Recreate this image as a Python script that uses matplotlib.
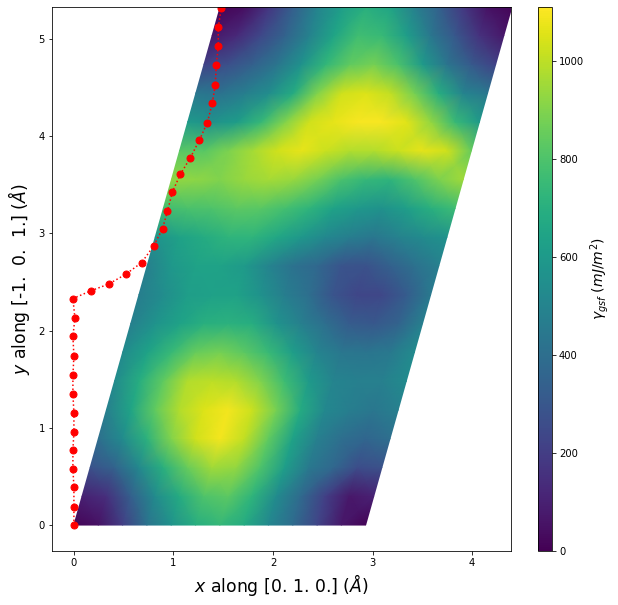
import numpy as np
import matplotlib
matplotlib.use('Agg')
import matplotlib.pyplot as plt

# gamma surface, rows along y, columns along the slanted cell
y_rows = [0.0, 0.296, 0.593, 0.889, 1.185, 1.481, 1.778, 2.074, 2.37, 2.667, 2.963,
          3.259, 3.556, 3.852, 4.148, 4.444, 4.741, 5.037, 5.333]
cell_frac = [0, 1 / 12, 2 / 12, 3 / 12, 4 / 12, 5 / 12, 6 / 12, 7 / 12, 8 / 12, 9 / 12,
             10 / 12, 11 / 12, 1]
gamma = [
    [10, 50, 200, 420, 560, 690, 740, 680, 520, 390, 230, 70, 10],
    [100, 150, 330, 530, 680, 800, 830, 720, 530, 380, 210, 70, 100],
    [280, 350, 520, 700, 850, 950, 930, 800, 620, 450, 370, 260, 280],
    [400, 530, 710, 900, 1030, 1090, 1010, 840, 640, 480, 400, 360, 400],
    [480, 650, 840, 980, 1050, 1090, 1020, 880, 680, 520, 470, 440, 480],
    [530, 690, 840, 980, 1000, 980, 900, 760, 600, 500, 480, 480, 530],
    [530, 640, 750, 850, 880, 830, 750, 620, 500, 440, 430, 450, 530],
    [480, 570, 640, 700, 710, 690, 570, 480, 400, 320, 300, 350, 480],
    [470, 540, 620, 630, 640, 560, 470, 400, 290, 230, 240, 320, 450],
    [480, 590, 640, 640, 600, 500, 420, 370, 290, 280, 340, 410, 480],
    [570, 640, 680, 720, 720, 660, 590, 520, 470, 440, 490, 530, 570],
    [770, 790, 800, 830, 820, 780, 720, 640, 590, 560, 620, 700, 760],
    [930, 920, 900, 940, 960, 940, 880, 790, 740, 720, 800, 890, 950],
    [820, 820, 890, 960, 1030, 1070, 1020, 980, 980, 1020, 1070, 1030, 850],
    [600, 560, 610, 740, 900, 1030, 1070, 1100, 1100, 1060, 930, 750, 600],
    [440, 420, 470, 540, 680, 900, 1030, 1050, 1010, 880, 690, 500, 440],
    [220, 270, 340, 430, 560, 730, 840, 880, 790, 600, 430, 310, 220],
    [70, 130, 240, 350, 490, 650, 770, 750, 620, 440, 300, 160, 70],
    [10, 40, 170, 330, 500, 620, 700, 650, 480, 340, 180, 50, 10],
]

# minimum energy path
path_x = [0, 0.0, 0.0, -0.01, -0.01, 0.0, 0.0, -0.01, -0.01, 0.0, -0.01, 0.01, -0.01,
          0.17, 0.35, 0.52, 0.68, 0.8, 0.89, 0.94, 0.99, 1.07, 1.17, 1.26, 1.34,
          1.39, 1.42, 1.43, 1.45, 1.45, 1.48]
path_y = [0, 0.19, 0.39, 0.58, 0.77, 0.96, 1.15, 1.35, 1.54, 1.74, 1.94, 2.13, 2.33,
          2.41, 2.48, 2.58, 2.7, 2.87, 3.05, 3.23, 3.43, 3.61, 3.78, 3.96, 4.14,
          4.34, 4.53, 4.73, 4.93, 5.12, 5.32]

cell_width = 2.93
cell_shift = 1.47

W, H = 618, 605
fig = plt.figure(figsize=(W / 72, H / 72), dpi=72)
ax = fig.add_axes([52 / W, 1 - 551 / H, 459 / W, 544 / H])
cax = fig.add_axes([538 / W, 1 - 551 / H, 14 / W, 544 / H])

frac, yy = np.meshgrid(cell_frac, y_rows)
xx = frac * cell_width + yy / y_rows[-1] * cell_shift
mesh = ax.pcolormesh(xx, yy, np.array(gamma), cmap='viridis', shading='gouraud',
                     vmin=0, vmax=1110)
ax.plot(path_x, path_y, 'r:o', markersize=7)

ax.set_xlim(-0.22, 4.39)
ax.set_ylim(-0.267, 5.33)
ax.set_xlabel(r'$x$ along [0. 1. 0.] ($\AA$)', fontsize=17.3)
ax.set_ylabel(r'$y$ along [-1.  0.  1.] ($\AA$)', fontsize=17.3, labelpad=7)

cbar = fig.colorbar(mesh, cax=cax)
cbar.set_label(r'$\gamma_{gsf}$ ($mJ/m^2$)', fontsize=14)

fig.savefig('out.png', dpi=72)
